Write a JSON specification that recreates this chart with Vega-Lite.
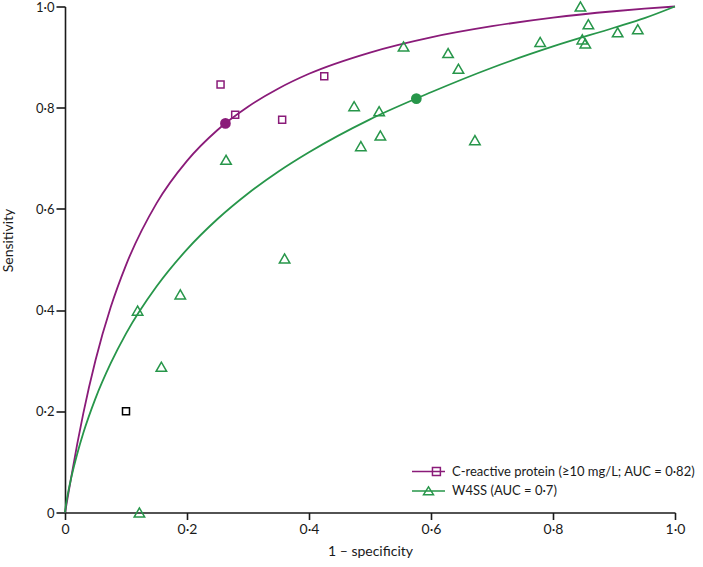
{
  "$schema": "https://vega.github.io/schema/vega-lite/v6.json",
  "width": 610,
  "height": 506,
  "autosize": {"type": "none"},
  "padding": {"left": 65, "top": 6.5, "right": 28, "bottom": 54.5},
  "background": "white",
  "config": {
    "view": {"stroke": null},
    "font": "Lato",
    "axis": {
      "grid": false,
      "domainColor": "#1a1a1a",
      "domainWidth": 1.6,
      "tickColor": "#1a1a1a",
      "tickWidth": 1.6,
      "labelFont": "Lato",
      "labelFontSize": 14,
      "labelColor": "#1a1a1a",
      "titleFont": "Lato",
      "titleFontSize": 14,
      "titleFontWeight": "normal",
      "titleColor": "#1a1a1a"
    }
  },
  "datasets": {
    "crpCurve": [
      {"fpr": 0, "sens": 0}, {"fpr": 0.001, "sens": 0.0062}, {"fpr": 0.005, "sens": 0.0337},
      {"fpr": 0.01, "sens": 0.0684}, {"fpr": 0.02, "sens": 0.135}, {"fpr": 0.03, "sens": 0.196},
      {"fpr": 0.05, "sens": 0.301}, {"fpr": 0.075, "sens": 0.406}, {"fpr": 0.1, "sens": 0.489},
      {"fpr": 0.15, "sens": 0.611}, {"fpr": 0.2, "sens": 0.695}, {"fpr": 0.25, "sens": 0.756},
      {"fpr": 0.3, "sens": 0.802}, {"fpr": 0.35, "sens": 0.838}, {"fpr": 0.4, "sens": 0.867},
      {"fpr": 0.5, "sens": 0.909}, {"fpr": 0.6, "sens": 0.939}, {"fpr": 0.7, "sens": 0.961},
      {"fpr": 0.8, "sens": 0.978}, {"fpr": 0.9, "sens": 0.9906}, {"fpr": 0.95, "sens": 0.9957},
      {"fpr": 1, "sens": 1}
    ],
    "wCurve": [
      {"fpr": 0, "sens": 0}, {"fpr": 0.001, "sens": 0.0102}, {"fpr": 0.005, "sens": 0.0387},
      {"fpr": 0.01, "sens": 0.0675}, {"fpr": 0.02, "sens": 0.1158}, {"fpr": 0.03, "sens": 0.157},
      {"fpr": 0.05, "sens": 0.2255}, {"fpr": 0.075, "sens": 0.295}, {"fpr": 0.1, "sens": 0.3535},
      {"fpr": 0.15, "sens": 0.4465}, {"fpr": 0.2, "sens": 0.52}, {"fpr": 0.25, "sens": 0.58},
      {"fpr": 0.3, "sens": 0.6305}, {"fpr": 0.35, "sens": 0.674}, {"fpr": 0.4, "sens": 0.712},
      {"fpr": 0.5, "sens": 0.777}, {"fpr": 0.6, "sens": 0.8305}, {"fpr": 0.7, "sens": 0.879},
      {"fpr": 0.8, "sens": 0.921}, {"fpr": 0.9, "sens": 0.958}, {"fpr": 0.95, "sens": 0.977},
      {"fpr": 1, "sens": 1}
    ],
    "crpStudies": [
      {"fpr": 0.255, "sens": 0.846}, {"fpr": 0.279, "sens": 0.786},
      {"fpr": 0.356, "sens": 0.776}, {"fpr": 0.425, "sens": 0.862}
    ],
    "wStudies": [
      {"fpr": 0.264, "sens": 0.697}, {"fpr": 0.474, "sens": 0.803}, {"fpr": 0.515, "sens": 0.793},
      {"fpr": 0.517, "sens": 0.745}, {"fpr": 0.485, "sens": 0.724}, {"fpr": 0.555, "sens": 0.921},
      {"fpr": 0.628, "sens": 0.908}, {"fpr": 0.645, "sens": 0.877}, {"fpr": 0.779, "sens": 0.93},
      {"fpr": 0.848, "sens": 0.935}, {"fpr": 0.853, "sens": 0.927}, {"fpr": 0.906, "sens": 0.949},
      {"fpr": 0.939, "sens": 0.955}, {"fpr": 0.845, "sens": 1.0}, {"fpr": 0.858, "sens": 0.965},
      {"fpr": 0.672, "sens": 0.736}, {"fpr": 0.36, "sens": 0.502}, {"fpr": 0.189, "sens": 0.431},
      {"fpr": 0.119, "sens": 0.399}, {"fpr": 0.158, "sens": 0.288}, {"fpr": 0.122, "sens": 0.0}
    ],
    "other": [
      {"fpr": 0.1, "sens": 0.2}
    ],
    "summary": [
      {"series": "C-reactive protein (≥10 mg/L; AUC = 0·82)", "fpr": 0.263, "sens": 0.769},
      {"series": "W4SS (AUC = 0·7)", "fpr": 0.576, "sens": 0.818}
    ]
  },
  "encoding": {
    "x": {
      "field": "fpr",
      "type": "quantitative",
      "scale": {"domain": [0, 1], "nice": false, "zero": false},
      "axis": {
        "title": "1 – specificity",
        "values": [0, 0.2, 0.4, 0.6, 0.8, 1],
        "labelExpr": "datum.value == 0 ? '0' : replace(format(datum.value, '.1f'), '.', '·')",
        "tickSize": 7,
        "labelPadding": 3,
        "labelFlush": false,
        "labelOverlap": false,
        "titleY": 39,
        "titleBaseline": "middle"
      }
    },
    "y": {
      "field": "sens",
      "type": "quantitative",
      "scale": {"domain": [0, 1], "nice": false, "zero": false},
      "axis": {
        "title": "Sensitivity",
        "values": [0, 0.2, 0.4, 0.6, 0.8, 1],
        "labelExpr": "datum.value == 0 ? '0' : replace(format(datum.value, '.1f'), '.', '·')",
        "tickSize": 9,
        "labelPadding": 2,
        "labelFontSize": 13,
        "labelOffset": 0.5,
        "labelFlush": false,
        "labelOverlap": false,
        "titleX": -56.5,
        "titleY": 233.5,
        "titleBaseline": "middle",
        "titleAngle": -90
      }
    }
  },
  "layer": [
    {
      "data": {"name": "crpCurve"},
      "mark": {"type": "line", "color": "#8A1B79", "strokeWidth": 1.8, "interpolate": "monotone"}
    },
    {
      "data": {"name": "wCurve"},
      "mark": {"type": "line", "color": "#27964A", "strokeWidth": 1.8, "interpolate": "monotone"}
    },
    {
      "data": {"name": "crpStudies"},
      "mark": {"type": "point", "shape": "square", "filled": false, "color": "#8A1B79", "size": 49, "strokeWidth": 1.5, "opacity": 1}
    },
    {
      "data": {"name": "wStudies"},
      "mark": {"type": "point", "shape": "triangle-up", "filled": false, "color": "#27964A", "size": 110, "strokeWidth": 1.5, "opacity": 1}
    },
    {
      "data": {"name": "other"},
      "mark": {"type": "point", "shape": "square", "filled": false, "color": "#000000", "size": 49, "strokeWidth": 1.5, "opacity": 1}
    },
    {
      "data": {"name": "summary"},
      "transform": [{"filter": "datum.series == 'W4SS (AUC = 0·7)'"}],
      "mark": {"type": "point", "shape": "circle", "filled": true, "color": "#27964A", "size": 115, "opacity": 1}
    },
    {
      "data": {"name": "summary"},
      "transform": [{"filter": "datum.series != 'W4SS (AUC = 0·7)'"}],
      "mark": {"type": "point", "shape": "circle", "filled": true, "color": "#8A1B79", "size": 115, "opacity": 1}
    },
    {
      "data": {"name": "summary"},
      "mark": {"type": "point", "filled": false, "opacity": 0, "strokeWidth": 1.5},
      "encoding": {
        "color": {
          "field": "series",
          "type": "nominal",
          "scale": {
            "domain": ["C-reactive protein (≥10 mg/L; AUC = 0·82)", "W4SS (AUC = 0·7)"],
            "range": ["#8A1B79", "#27964A"]
          },
          "legend": {
            "orient": "none",
            "legendX": 346,
            "legendY": 456,
            "title": null,
            "symbolSize": 1089,
            "clipHeight": 18,
            "rowPadding": 1.5,
            "labelOffset": 6,
            "labelLimit": 400,
            "labelFont": "Lato",
            "labelFontSize": 13,
            "labelColor": "#1a1a1a",
            "symbolStrokeWidth": 1.5,
            "padding": 0
          }
        },
        "shape": {
          "field": "series",
          "type": "nominal",
          "scale": {
            "domain": ["C-reactive protein (≥10 mg/L; AUC = 0·82)", "W4SS (AUC = 0·7)"],
            "range": [
              "M-1,0L1,0M0.24,-0.24L0.72,-0.24L0.72,0.24L0.24,0.24Z",
              "M-1,0L1,0M0,-0.25L-0.3,0.22L0.3,0.22Z"
            ]
          },
          "legend": {
            "orient": "none",
            "legendX": 346,
            "legendY": 456,
            "title": null,
            "symbolSize": 1089,
            "clipHeight": 18,
            "rowPadding": 1.5,
            "labelOffset": 6,
            "labelLimit": 400,
            "labelFont": "Lato",
            "labelFontSize": 13,
            "labelColor": "#1a1a1a",
            "symbolStrokeWidth": 1.5,
            "padding": 0
          }
        }
      }
    }
  ]
}
